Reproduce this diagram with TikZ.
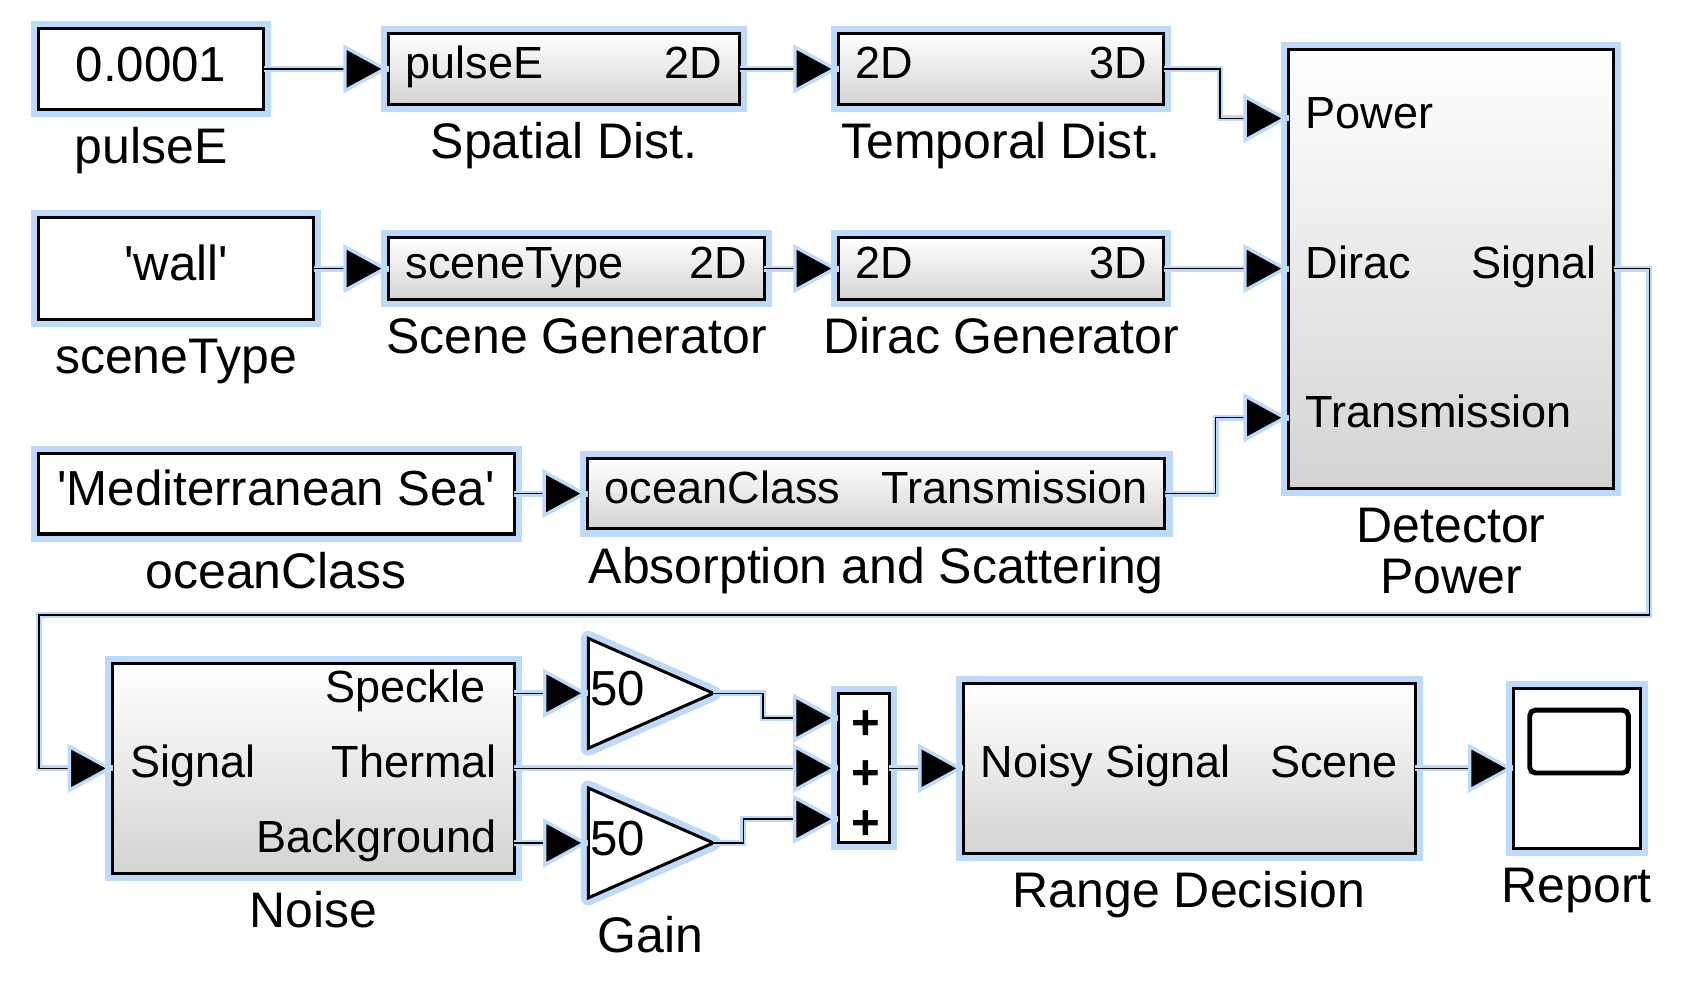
\documentclass[tikz,border=0pt]{standalone}
\usepackage{fontspec}
\setmainfont{Liberation Sans}
\usepackage{tikz}
\usetikzlibrary{positioning}
\usetikzlibrary{arrows.meta}
\definecolor{halo}{RGB}{190,218,250}
\tikzset{
    txt/.style = {inner sep=0pt, outer sep=0pt},
    ctxt/.style = {txt, font=\fontsize{13}{15}\selectfont, text height=9.4pt, text depth=3pt},
    ptxt/.style = {txt, font=\fontsize{11.9}{14}\selectfont, text height=8.6pt, text depth=3.5pt},
    lbl/.style = {txt, font=\fontsize{13.2}{15}\selectfont, text height=9.5pt, text depth=3.4pt},
    plus/.style = {txt, anchor=base, font=\fontsize{13}{15}\selectfont\bfseries},
    block/.style = {ctxt, draw=black, line width=0.8pt, preaction={draw=halo, line width=4pt}},
    const/.style = {block, fill=white},
    subsys/.style = {block, top color=white, middle color=white, bottom color=black!17},
    gainshape/.style = {draw=black, line width=0.8pt, fill=white, preaction={draw=halo, line width=4pt, line join=round}},
    wire/.style = {line width=0.4pt, preaction={-, draw=halo, line width=1.6pt},
        -{Triangle[length=4.2mm, width=4.5mm, fill=black, color=halo, line width=0.9pt]}}
}
\begin{document}
\begin{tikzpicture}[x=0.01cm, y=-0.01cm]
  \useasboundingbox (0,0) rectangle (1568,911);

  \node [const, minimum width=2.095cm, minimum height=0.75cm] (pulse) at (140.25,64) {0.0001};
  \node [subsys, minimum width=3.26cm, minimum height=0.657cm] (spatial) at (524,64) {};
  \node [subsys, minimum width=3.02cm, minimum height=0.66cm] (temporal) at (930,64) {};
  \node [const, minimum width=2.56cm, minimum height=0.94cm] (wall) at (163.5,249.5) {\textquotesingle wall\textquotesingle};
  \node [subsys, minimum width=3.49cm, minimum height=0.57cm] (scene) at (535.5,249.5) {};
  \node [subsys, minimum width=3.02cm, minimum height=0.57cm] (dirac) at (930,249.5) {};
  \node [subsys, minimum width=3.02cm, minimum height=4.075cm] (detector) at (1348,249.5) {};
  \node [const, minimum width=4.42cm, minimum height=0.75cm] (ocean) at (256.5,458.5) {\textquotesingle Mediterranean Sea\textquotesingle};
  \node [subsys, minimum width=5.36cm, minimum height=0.656cm] (absorb) at (814,458.5) {};
  \node [subsys, minimum width=3.725cm, minimum height=1.95cm] (noise) at (291.25,713.7) {};
  \node [const, minimum width=0.474cm, minimum height=1.384cm] (sum) at (802.3,713.7) {};
  \node [subsys, minimum width=4.195cm, minimum height=1.583cm] (range) at (1104.75,713.7) {};
  \node [const, minimum width=1.18cm, minimum height=1.49cm] (report) at (1464.65,713.7) {};
  \node [draw, line width=1.3pt, rounded corners=1.5pt, inner sep=0pt, minimum width=0.916cm, minimum height=0.584cm] (screen) at (1466.8,688.8) {};

  \draw [gainshape] (546.5,593) -- (662.6,644) -- (546.5,695) -- cycle;
  \draw [gainshape] (546.5,732) -- (662.6,783) -- (546.5,834) -- cycle;

  \coordinate (dpow) at (1197,110);
  \coordinate (dtrn) at (1197,388);
  \coordinate (nspk) at (477.5,644);
  \coordinate (nbkg) at (477.5,783);
  \coordinate (g1in) at (546.5,644);
  \coordinate (g1out) at (662.6,644);
  \coordinate (g2in) at (546.5,783);
  \coordinate (g2out) at (662.6,783);
  \coordinate (g2low) at (604.5,834);
  \coordinate (sin1) at (778.6,667);
  \coordinate (sin2) at (778.6,713.7);
  \coordinate (sin3) at (778.6,761);

  \node [ptxt, right=0.16cm of spatial.west] (sppE) {pulseE};
  \node [ptxt, left=0.16cm of spatial.east] (sp2D) {2D};
  \node [ptxt, right=0.16cm of temporal.west] (tp2D) {2D};
  \node [ptxt, left=0.16cm of temporal.east] (tp3D) {3D};
  \node [ptxt, right=0.16cm of scene.west] (scsT) {sceneType};
  \node [ptxt, left=0.16cm of scene.east] (sc2D) {2D};
  \node [ptxt, right=0.16cm of dirac.west] (dg2D) {2D};
  \node [ptxt, left=0.16cm of dirac.east] (dg3D) {3D};
  \node [ptxt, right=0.16cm of dpow] (dtPow) {Power};
  \node [ptxt, right=0.16cm of detector.west] (dtDir) {Dirac};
  \node [ptxt, right=0.16cm of dtrn] (dtTrn) {Transmission};
  \node [ptxt, left=0.16cm of detector.east] (dtSig) {Signal};
  \node [ptxt, right=0.16cm of absorb.west] (aboC) {oceanClass};
  \node [ptxt, left=0.16cm of absorb.east] (abTr) {Transmission};
  \node [ptxt, right=0.16cm of noise.west] (nsSig) {Signal};
  \node [ptxt, left=0.265cm of nspk] (nsSpk) {Speckle};
  \node [ptxt, left=0.16cm of noise.east] (nsThm) {Thermal};
  \node [ptxt, left=0.16cm of nbkg] (nsBkg) {Background};
  \node [ctxt, right=0.02cm of g1in] (g1txt) {50};
  \node [ctxt, right=0.02cm of g2in] (g2txt) {50};
  \node [plus] (plus1) at (804.5,686.8) {+};
  \node [plus] (plus2) at (804.5,733.2) {+};
  \node [plus] (plus3) at (804.5,779.8) {+};
  \node [ptxt, right=0.16cm of range.west] (rdNS) {Noisy Signal};
  \node [ptxt, left=0.16cm of range.east] (rdSc) {Scene};

  \node [lbl, below=0.17cm of pulse] (pulselbl) {pulseE};
  \node [lbl, below=0.17cm of spatial] (spatiallbl) {Spatial Dist.};
  \node [lbl, below=0.17cm of temporal] (temporallbl) {Temporal Dist.};
  \node [lbl, below=0.17cm of wall] (walllbl) {sceneType};
  \node [lbl, below=0.17cm of scene] (scenelbl) {Scene Generator};
  \node [lbl, below=0.17cm of dirac] (diraclbl) {Dirac Generator};
  \node [lbl, below=0.17cm of detector] (detlblA) {Detector};
  \node [lbl, below=0.02cm of detlblA] (detlblB) {Power};
  \node [lbl, below=0.17cm of ocean] (oceanlbl) {oceanClass};
  \node [lbl, below=0.17cm of absorb] (absorblbl) {Absorption and Scattering};
  \node [lbl, below=0.17cm of noise] (noiselbl) {Noise};
  \node [lbl, below=0.17cm of g2low] (gainlbl) {Gain};
  \node [lbl, below=0.17cm of range] (rangelbl) {Range Decision};
  \node [lbl, below=0.17cm of report] (reportlbl) {Report};

  \draw [wire] (pulse.east) -- (spatial.west);
  \draw [wire] (spatial.east) -- (temporal.west);
  \draw [wire] (temporal.east) -- ++(0.52cm,0) |- (dpow);
  \draw [wire] (wall.east) -- (scene.west);
  \draw [wire] (scene.east) -- (dirac.west);
  \draw [wire] (dirac.east) -- (detector.west);
  \draw [wire] (ocean.east) -- (absorb.west);
  \draw [wire] (absorb.east) -- ++(0.47cm,0) |- (dtrn);
  \draw [wire] (detector.east) -- ++(0.33cm,0) -- ++(0,-3.215cm) -| ([xshift=-0.684cm]noise.west) -- (noise.west);
  \draw [wire] (nspk) -- (g1in);
  \draw [wire] (nbkg) -- (g2in);
  \draw [wire] (g1out) -- ++(0.46cm,0) |- (sin1);
  \draw [wire] (noise.east) -- (sin2);
  \draw [wire] (g2out) -- ++(0.28cm,0) |- (sin3);
  \draw [wire] (sum.east) -- (range.west);
  \draw [wire] (range.east) -- (report.west);
\end{tikzpicture}
\end{document}
